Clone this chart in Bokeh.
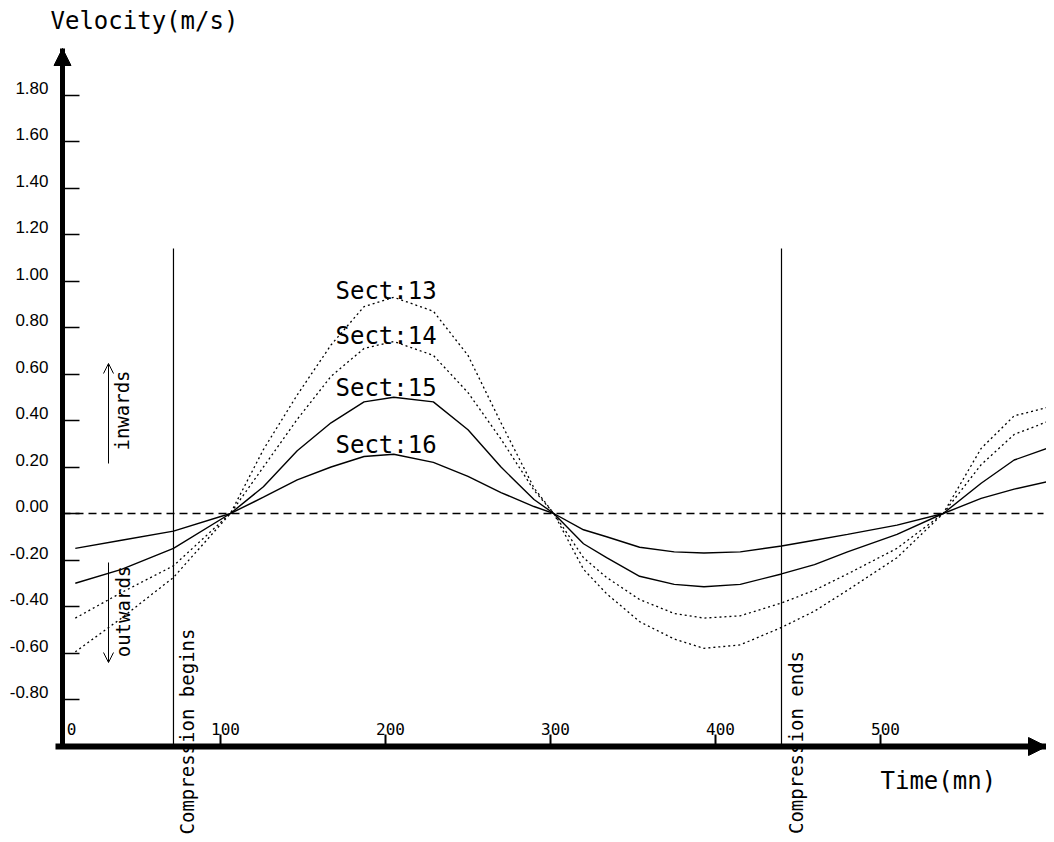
import math
from bokeh.plotting import figure
from bokeh.models import (FixedTicker, Label, Arrow, NormalHead, OpenHead, Range1d)
from bokeh.embed import file_html
from bokeh.resources import INLINE

# ---------------- data ----------------
time_mn = [12, 40, 71.5, 106, 126, 146.5, 167, 187, 205, 229, 250, 270, 290, 302, 320, 334,
           354, 375, 393, 415, 440, 460, 480, 510, 538, 561, 581, 603]

sect13 = [-0.595, -0.45, -0.275, 0.0, 0.275, 0.51, 0.725, 0.89, 0.93, 0.87, 0.68, 0.39, 0.11,
          0.0, -0.24, -0.345, -0.465, -0.54, -0.58, -0.565, -0.49, -0.42, -0.33, -0.19, 0.0,
          0.28, 0.42, 0.46]
sect14 = [-0.45, -0.34, -0.225, 0.0, 0.20, 0.405, 0.59, 0.71, 0.74, 0.68, 0.52, 0.32, 0.10,
          0.0, -0.19, -0.275, -0.37, -0.43, -0.45, -0.44, -0.385, -0.33, -0.26, -0.15, 0.0,
          0.21, 0.34, 0.40]
sect15 = [-0.30, -0.24, -0.15, 0.0, 0.115, 0.27, 0.39, 0.48, 0.50, 0.48, 0.36, 0.20, 0.06,
          0.0, -0.13, -0.19, -0.27, -0.305, -0.315, -0.305, -0.26, -0.22, -0.165, -0.09, 0.0,
          0.13, 0.23, 0.285]
sect16 = [-0.15, -0.115, -0.076, 0.0, 0.07, 0.145, 0.20, 0.245, 0.255, 0.22, 0.16, 0.09, 0.03,
          0.0, -0.07, -0.10, -0.145, -0.165, -0.17, -0.165, -0.14, -0.115, -0.09, -0.05, 0.0,
          0.065, 0.105, 0.14]

series_names = ["Sect:13", "Sect:14", "Sect:15", "Sect:16"]
series_dash = ["2 3", "2 3", "solid", "solid"]

compression_times = [71.5, 440]
compression_labels = ["Compression begins", "Compression ends"]

x_ticks = [100, 200, 300, 400, 500]
x_tick_labels = ["0", "100", "200", "300", "400", "500"]
x_label_values = [0, 100, 200, 300, 400, 500]
y_ticks = [-0.8, -0.6, -0.4, -0.2, 0.0, 0.2, 0.4, 0.6, 0.8, 1.0, 1.2, 1.4, 1.6, 1.8]
y_tick_labels = ["-0.80", "-0.60", "-0.40", "-0.20", "0.00", "0.20", "0.40", "0.60",
                 "0.80", "1.00", "1.20", "1.40", "1.60", "1.80"]

# ---------------- layout (figure coords == picture coords) ----------------
W, H = 1046, 834
PX_PER_T, T0_PX = 1.65, 55.0       # x pixel = 55 + 1.65 * t
PX_PER_V, V0_PX = 232.5, 513.0     # y pixel = 513 - 232.5 * v

def t_at(px):
    return (px - T0_PX) / PX_PER_T

def v_at(py):
    return (V0_PX - py) / PX_PER_V

X_START, X_END = t_at(0), t_at(W)
Y_TOP, Y_BOTTOM = v_at(0), v_at(H)
X_AXIS_T = t_at(62)       # y axis position
Y_AXIS_V = v_at(746)      # x axis position
Y_ARROW_V = v_at(48)

p = figure(width=W, height=H, x_range=Range1d(X_START, X_END),
           y_range=Range1d(Y_BOTTOM, Y_TOP), x_axis_location="above",
           output_backend="svg", toolbar_location=None,
           min_border=0, min_border_left=0, min_border_right=0,
           min_border_top=0, min_border_bottom=0)
p.outline_line_color = None
p.grid.visible = False
p.background_fill_color = "white"
p.border_fill_color = "white"

MONO = "DejaVu Sans Mono"

# y axis: minor ticks mark the values, major (invisible) ticks carry the raised labels
y_label_pos = [round(v + 7 / PX_PER_V, 5) for v in y_ticks]
ya = p.yaxis[0]
ya.fixed_location = X_AXIS_T
ya.bounds = (Y_AXIS_V, Y_ARROW_V)
ya.ticker = FixedTicker(ticks=y_label_pos, minor_ticks=y_ticks)
ya.major_label_overrides = dict(zip(y_label_pos, y_tick_labels))
ya.axis_line_width = 5
ya.axis_line_color = "black"
ya.major_tick_in = 0
ya.major_tick_out = 0
ya.minor_tick_in = 17
ya.minor_tick_out = 0
ya.minor_tick_line_width = 1.5
ya.minor_tick_line_color = "black"
ya.major_label_standoff = 14
ya.major_label_text_font = "Liberation Sans"
ya.major_label_text_font_size = "17px"
ya.major_label_text_color = "black"

# x axis (labels drawn above its line, at the bottom of the plot)
x_label_pos = [round(v + (16 if v == 0 else 5) / PX_PER_T, 4) for v in x_label_values]
xa = p.xaxis[0]
xa.fixed_location = Y_AXIS_V
xa.bounds = (0, X_END)
xa.ticker = FixedTicker(ticks=x_label_pos, minor_ticks=x_ticks)
xa.major_label_overrides = dict(zip(x_label_pos, x_tick_labels))
xa.axis_line_width = 6
xa.axis_line_color = "black"
xa.major_tick_in = 0
xa.major_tick_out = 0
xa.minor_tick_in = 0
xa.minor_tick_out = 12
xa.minor_tick_line_width = 2
xa.minor_tick_line_color = "black"
xa.major_label_standoff = 0
xa.major_label_text_font = MONO
xa.major_label_text_font_size = "16px"
xa.major_label_text_color = "black"

# axis arrow heads
p.add_layout(Arrow(end=NormalHead(size=17, fill_color="black", line_color="black"),
                   x_start=X_AXIS_T, y_start=Y_ARROW_V - 0.1, x_end=X_AXIS_T, y_end=Y_ARROW_V,
                   line_width=5, line_color="black"))
p.add_layout(Arrow(end=NormalHead(size=18, fill_color="black", line_color="black"),
                   x_start=X_END - 8, y_start=Y_AXIS_V, x_end=X_END, y_end=Y_AXIS_V,
                   line_width=6, line_color="black"))

# zero dashed line
p.segment(x0=[X_AXIS_T], y0=[0.0], x1=[t_at(1043)], y1=[0.0], line_color="black",
          line_width=1.5, line_dash="8 5")

# compression lines
p.segment(x0=compression_times, y0=[Y_AXIS_V] * 2, x1=compression_times,
          y1=[v_at(248)] * 2, line_color="black", line_width=1.2)

# curves
for vals, dash in zip([sect13, sect14, sect15, sect16], series_dash):
    p.line(time_mn, vals, line_color="black", line_width=1.4 if dash == "solid" else 1.3,
           line_dash=dash)

# series labels
for name, py in zip(series_names, [290, 335, 387, 444]):
    p.add_layout(Label(x=t_at(335), y=v_at(py), text=name, text_font=MONO,
                       text_font_size="24px", text_baseline="middle", text_align="left",
                       text_color="black"))

# axis titles
p.add_layout(Label(x=t_at(50), y=v_at(20), text="Velocity(m/s)", text_font=MONO,
                   text_font_size="24px", text_baseline="middle", text_align="left",
                   text_color="black"))
p.add_layout(Label(x=t_at(880), y=v_at(780), text="Time(mn)", text_font=MONO,
                   text_font_size="24px", text_baseline="middle", text_align="left",
                   text_color="black"))

# compression labels (rotated)
for txt, px, py in zip(compression_labels, [186, 795], [731, 742]):
    p.add_layout(Label(x=t_at(px), y=v_at(py), text=txt, angle=math.pi / 2, text_font=MONO,
                       text_font_size="19px", text_align="center", text_baseline="middle",
                       text_color="black"))

# inwards / outwards arrows
p.add_layout(Arrow(end=OpenHead(size=10, line_width=1, line_color="black"),
                   x_start=t_at(108), y_start=v_at(463), x_end=t_at(108), y_end=v_at(363),
                   line_width=1, line_color="black"))
p.add_layout(Arrow(end=OpenHead(size=10, line_width=1, line_color="black"),
                   x_start=t_at(108), y_start=v_at(562), x_end=t_at(108), y_end=v_at(662),
                   line_width=1, line_color="black"))
p.add_layout(Label(x=t_at(121), y=v_at(410), text="inwards", angle=math.pi / 2,
                   text_font=MONO, text_font_size="19px", text_align="center",
                   text_baseline="middle", text_color="black"))
p.add_layout(Label(x=t_at(122), y=v_at(611), text="outwards", angle=math.pi / 2,
                   text_font=MONO, text_font_size="19px", text_align="center",
                   text_baseline="middle", text_color="black"))

open("out.html", "w").write(file_html(p, INLINE))
